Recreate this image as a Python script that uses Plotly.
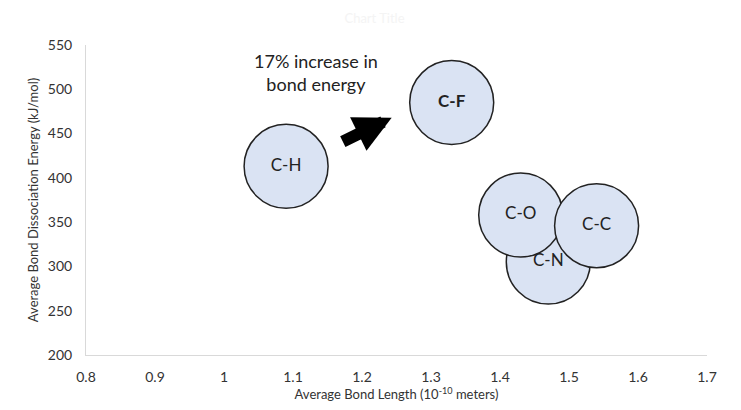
import plotly.graph_objects as go

bonds = ["C-H", "C-F", "C-N", "C-O", "C-C"]
bond_length = [1.09, 1.33, 1.47, 1.43, 1.54]
bond_energy = [413, 485, 305, 358, 346]
labels = ["C-H", "<b>C-F</b>", "C-N", "C-O", "C-C"]

x_ticks = [0.8, 0.9, 1.0, 1.1, 1.2, 1.3, 1.4, 1.5, 1.6, 1.7]
x_tick_text = ["0.8", "0.9", "1", "1.1", "1.2", "1.3", "1.4", "1.5", "1.6", "1.7"]
y_ticks = [200, 250, 300, 350, 400, 450, 500, 550]

FONT = "Lato"

fig = go.Figure()
fig.add_trace(go.Scatter(
    x=bond_length, y=bond_energy, mode="markers+text",
    text=labels, textposition="middle center",
    textfont=dict(family=FONT, size=17, color="#222222"),
    marker=dict(size=84, color="#DAE3F3", line=dict(color="#222222", width=1.5), opacity=1),
    hoverinfo="x+y", showlegend=False,
))

fig.add_annotation(
    x=1.133, y=519, xref="x", yref="y",
    text="17% increase in<br>bond energy", showarrow=False,
    font=dict(family=FONT, size=18, color="#222222"), align="center",
)
fig.add_annotation(
    x=1.243, y=468, ax=1.17, ay=440, xref="x", yref="y", axref="x", ayref="y",
    text="", showarrow=True, arrowhead=2, arrowsize=0.62, arrowwidth=12, arrowcolor="#000000",
)

fig.update_layout(
    width=733, height=402,
    margin=dict(l=78, r=34, t=37, b=55, autoexpand=False),
    paper_bgcolor="white", plot_bgcolor="white",
    title=dict(text="Chart Title", x=0.5, xanchor="center", y=0.975, yanchor="middle",
               font=dict(family=FONT, size=13, color="#f4f4f4")),
    xaxis=dict(range=[0.8, 1.7], tickvals=x_ticks, ticktext=x_tick_text, showgrid=False, zeroline=False,
               showline=True, linecolor="#d9d9d9", linewidth=1, ticks="", automargin=False,
               ticklabelstandoff=9,
               tickfont=dict(family=FONT, size=14, color="#333333"),
               title=dict(text="Average Bond Length (10<sup>-10</sup> meters)", standoff=6,
                          font=dict(family=FONT, size=13, color="#333333"))),
    yaxis=dict(range=[200, 550], tickvals=y_ticks, showgrid=False, zeroline=False,
               showline=True, linecolor="#d9d9d9", linewidth=1, ticks="", automargin=False,
               ticklabelstandoff=10,
               tickfont=dict(family=FONT, size=14, color="#333333"),
               title=dict(text="Average Bond Dissociation Energy (kJ/mol)", standoff=6,
                          font=dict(family=FONT, size=13, color="#333333"))),
)

fig.write_html("out.html")
